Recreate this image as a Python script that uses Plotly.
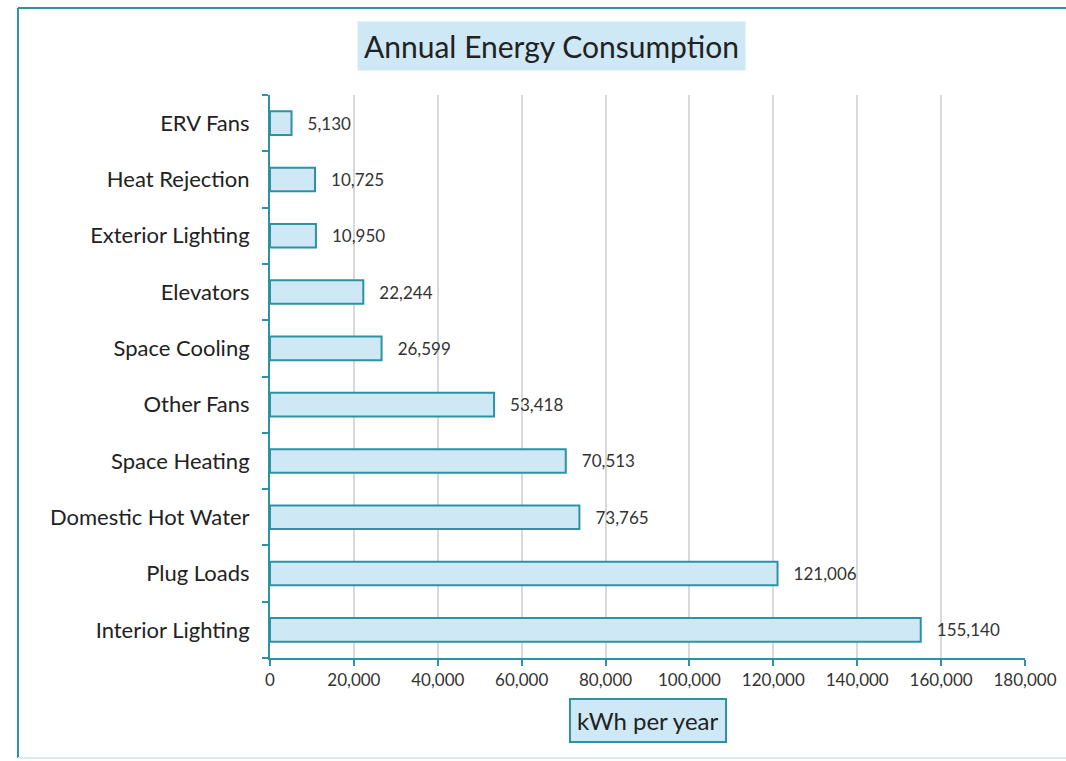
import plotly.graph_objects as go

categories = ["Interior Lighting", "Plug Loads", "Domestic Hot Water", "Space Heating",
              "Other Fans", "Space Cooling", "Elevators", "Exterior Lighting",
              "Heat Rejection", "ERV Fans"]
values = [155140, 121006, 73765, 70513, 53418, 26599, 22244, 10950, 10725, 5130]
x_ticks = [0, 20000, 40000, 60000, 80000, 100000, 120000, 140000, 160000, 180000]

TEAL = "#2b93a3"
FILL = "#cfe8f5"
FONT = "Lato"

W, H = 1066, 761
L, R, T, B = 270, 41, 95, 103
pw, ph = W - L - R, H - T - B

def px(xp):
    return (xp - L) / pw

def py(yp):
    return (H - B - yp) / ph

fig = go.Figure(go.Bar(
    y=categories, x=values, orientation="h",
    marker=dict(color=FILL, line=dict(color=TEAL, width=2)),
    text=[f"   {v:,}" for v in values], textposition="outside",
    textfont=dict(family=FONT, size=17, color="#333333"),
    cliponaxis=False, width=0.42,
))

border = dict(color=TEAL, width=2)
fig.update_layout(
    width=W, height=H,
    margin=dict(l=L, r=R, t=T, b=B),
    paper_bgcolor="white", plot_bgcolor="white",
    showlegend=False,
    font=dict(family=FONT, color="#222222"),
    xaxis=dict(range=[0, 180000], tickvals=x_ticks,
               ticktext=[f"{v:,}" for v in x_ticks],
               showgrid=True, gridcolor="#d9d9d9", gridwidth=1.5,
               showline=True, linecolor=TEAL, linewidth=2,
               ticks="outside", ticklen=6, tickcolor=TEAL, tickwidth=2,
               tickfont=dict(family=FONT, size=17, color="#333333"),
               zeroline=False, fixedrange=True, automargin=False),
    yaxis=dict(categoryorder="array", categoryarray=categories,
               showline=True, linecolor=TEAL, linewidth=2,
               ticks="outside", tickson="boundaries", ticklen=6,
               tickcolor=TEAL, tickwidth=2, ticklabelstandoff=14,
               tickfont=dict(family=FONT, size=22, color="#222222"),
               showgrid=False, zeroline=False, automargin=False),
    shapes=[
        dict(type="line", xref="paper", yref="paper",
             x0=px(18), x1=px(1070), y0=py(8), y1=py(8), line=border),
        dict(type="line", xref="paper", yref="paper",
             x0=px(18), x1=px(18), y0=py(8), y1=py(758), line=border),
        dict(type="line", xref="paper", yref="paper",
             x0=px(18), x1=px(1070), y0=py(758), y1=py(758),
             line=dict(color="#d6ecf2", width=2)),
    ],
    annotations=[
        dict(text="Annual Energy Consumption", xref="paper", yref="paper",
             x=px(551), y=py(46), xanchor="center", yanchor="middle",
             showarrow=False, bgcolor=FILL, borderpad=6,
             font=dict(family=FONT, size=30, color="#222222")),
        dict(text="kWh per year", xref="paper", yref="paper",
             x=px(648), y=py(720), xanchor="center", yanchor="middle",
             showarrow=False, bgcolor=FILL, bordercolor=TEAL, borderwidth=2,
             borderpad=6,
             font=dict(family=FONT, size=24, color="#222222")),
    ],
)

fig.write_html("out.html")
